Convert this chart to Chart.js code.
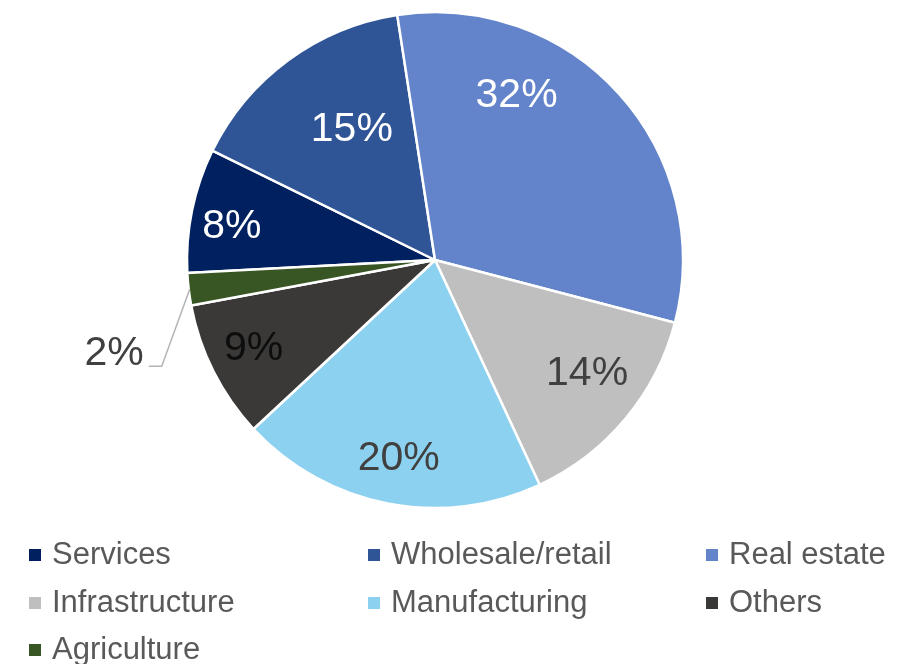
<!DOCTYPE html>
<html>
<head>
<meta charset="utf-8">
<script src="https://cdn.jsdelivr.net/npm/chart.js@4.4.1/dist/chart.umd.min.js"></script>
<style>
  html, body { margin: 0; padding: 0; background: #ffffff; }
  #wrap { width: 910px; height: 664px; position: relative; }
</style>
</head>
<body>
<div id="wrap"><canvas id="c" width="910" height="664"></canvas></div>
<script>
// ---- data ----
const categories = ["Services", "Wholesale/retail", "Real estate", "Infrastructure", "Manufacturing", "Others", "Agriculture"];
const shares = [8.1, 15.3, 31.5, 14.0, 20.0, 9.0, 2.1];
const valueLabels = ["8%", "15%", "32%", "14%", "20%", "9%", "2%"];

// ---- styles ----
const sliceColors = ["#002060", "#2F5597", "#6384CA", "#BFBFBF", "#8DD1F0", "#3A3938", "#375623"];
const labelColors = ["#FFFFFF", "#FFFFFF", "#FFFFFF", "#404040", "#404040", "#0D0D0D", "#404040"];
// label placement: fraction along arc, fraction of radius (null = outside with leader)
const labelAlong = [0.42, 0.57, 0.31, 0.44, 0.49, 0.52, 0.5];
const labelRadius = [0.83, 0.625, 0.74, 0.766, 0.815, 0.815, null];

const labelPlugin = {
  id: 'sliceLabels',
  afterDatasetsDraw(chart) {
    const ctx = chart.ctx;
    const meta = chart.getDatasetMeta(0);
    ctx.save();
    ctx.font = '41px "Liberation Sans", Arial, sans-serif';
    ctx.textBaseline = 'middle';
    meta.data.forEach((arc, i) => {
      const p = arc.getProps(['x', 'y', 'startAngle', 'endAngle', 'outerRadius'], true);
      const a = p.startAngle + labelAlong[i] * (p.endAngle - p.startAngle);
      if (labelRadius[i] !== null) {
        const r = labelRadius[i] * p.outerRadius;
        ctx.fillStyle = labelColors[i];
        ctx.textAlign = 'center';
        ctx.fillText(valueLabels[i], p.x + Math.cos(a) * r, p.y + Math.sin(a) * r);
      } else {
        const sx = p.x + Math.cos(a) * (p.outerRadius - 1);
        const sy = p.y + Math.sin(a) * (p.outerRadius - 1);
        const ex = sx - 28, ey = sy + 77;
        ctx.strokeStyle = '#B4B4B4';
        ctx.lineWidth = 1.5;
        ctx.beginPath();
        ctx.moveTo(sx, sy);
        ctx.lineTo(ex, ey);
        ctx.lineTo(ex - 13, ey);
        ctx.stroke();
        ctx.fillStyle = labelColors[i];
        ctx.textAlign = 'right';
        ctx.fillText(valueLabels[i], ex - 18, ey - 12);
      }
    });
    ctx.restore();
  }
};

const legendPlugin = {
  id: 'gridLegend',
  afterDraw(chart) {
    const ctx = chart.ctx;
    const colX = [29, 368, 706];
    const rowY = [555, 603, 650];
    ctx.save();
    ctx.font = '31px "Liberation Sans", Arial, sans-serif';
    ctx.textBaseline = 'middle';
    ctx.textAlign = 'left';
    chart.data.labels.forEach((lab, i) => {
      const x = colX[i % 3], y = rowY[Math.floor(i / 3)];
      ctx.fillStyle = chart.data.datasets[0].backgroundColor[i];
      ctx.fillRect(x, y - 6, 12, 12);
      ctx.fillStyle = '#595959';
      ctx.fillText(lab, x + 23, y);
    });
    ctx.restore();
  }
};

new Chart(document.getElementById('c'), {
  type: 'pie',
  data: {
    labels: categories,
    datasets: [{
      data: shares,
      backgroundColor: sliceColors,
      borderColor: '#FFFFFF',
      borderWidth: 2.5
    }]
  },
  options: {
    responsive: false,
    animation: false,
    rotation: -93,
    radius: 248,
    layout: { padding: { left: 0, right: 40, top: 0, bottom: 144 } },
    plugins: { legend: { display: false }, tooltip: { enabled: false } },
    events: []
  },
  plugins: [labelPlugin, legendPlugin]
});
</script>
</body>
</html>
